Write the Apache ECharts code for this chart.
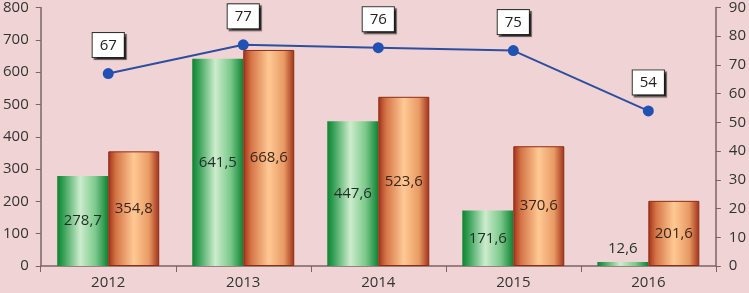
<!DOCTYPE html>
<html><head><meta charset="utf-8">
<script src="https://cdn.jsdelivr.net/npm/echarts@6/dist/echarts.min.js"></script>
<style>html,body{margin:0;padding:0;background:#f0d4d5;}#c{width:749px;height:293px;}</style>
</head><body><div id="c"></div>
<script>
const categories = ['2012','2013','2014','2015','2016'];
const greenValues = [278.7, 641.5, 447.6, 171.6, 12.6];
const orangeValues = [354.8, 668.6, 523.6, 370.6, 201.6];
const lineValues = [67, 77, 76, 75, 54];
const leftTicks = [0,100,200,300,400,500,600,700,800];
const rightTicks = [0,10,20,30,40,50,60,70,80,90];

const font = '"Open Sans", "Noto Sans", sans-serif';
const axisColor = '#7b6464';
const fmt = p => String(p.value).replace('.', ',');

const greenGrad = new echarts.graphic.LinearGradient(0,0,1,0,[
  {offset:0, color:'#0f8233'},
  {offset:0.12, color:'#35a055'},
  {offset:0.45, color:'#cdeccd'},
  {offset:0.75, color:'#7cc98c'},
  {offset:1, color:'#0f8233'}
]);
const orangeGrad = new echarts.graphic.LinearGradient(0,0,1,0,[
  {offset:0, color:'#a03018'},
  {offset:0.15, color:'#d47446'},
  {offset:0.5, color:'#ffc994'},
  {offset:0.8, color:'#e89a64'},
  {offset:1, color:'#a03018'}
]);

const chart = echarts.init(document.getElementById('c'));
chart.setOption({
  backgroundColor: '#f0d4d5',
  animation: false,
  grid: {left: 40, right: 33, top: 5, bottom: 27, containLabel: false},
  xAxis: {
    type: 'category', data: categories,
    axisLine: {lineStyle: {color: axisColor, width: 1.5}},
    axisTick: {show: true, length: 6, lineStyle: {color: axisColor}},
    axisLabel: {color: '#333', fontSize: 15, fontFamily: font, margin: 9}
  },
  yAxis: [
    {type: 'value', min: 0, max: 800, interval: 100,
     axisLine: {show: true, lineStyle: {color: axisColor, width: 1.5}},
     axisTick: {show: true, length: 5, lineStyle: {color: axisColor}},
     splitLine: {show: false},
     axisLabel: {color: '#333', fontSize: 15, fontFamily: font, margin: 12}},
    {type: 'value', min: 0, max: 90, interval: 10, position: 'right',
     axisLine: {show: true, lineStyle: {color: axisColor, width: 1.5}},
     axisTick: {show: true, length: 5, lineStyle: {color: axisColor}},
     splitLine: {show: false},
     axisLabel: {color: '#333', fontSize: 15, fontFamily: font, margin: 13}}
  ],
  series: [
    {type: 'bar', data: greenValues.map((v,i)=> i===4 ? {value:v, label:{position:'top', distance:6}} : v),
     barWidth: 51, barGap: '0%',
     itemStyle: {color: greenGrad},
     label: {show: true, position: 'inside', formatter: fmt, color: '#1f2f25', fontSize: 15, fontFamily: font}},
    {type: 'bar', data: orangeValues, barWidth: 51, barGap: '0%',
     itemStyle: {color: orangeGrad, borderColor: '#8e2d14', borderWidth: 1},
     label: {show: true, position: 'inside', formatter: fmt, color: '#3a2418', fontSize: 15, fontFamily: font}},
    {type: 'line', yAxisIndex: 1, data: lineValues,
     symbol: 'circle', symbolSize: 11,
     lineStyle: {color: '#2e4ea0', width: 2},
     itemStyle: {color: '#2152b3'},
     label: {show: true, position: 'top', distance: 11, color: '#222', fontSize: 15, fontFamily: font,
       backgroundColor: '#fff', borderColor: '#333', borderWidth: 1, padding: [5,7,4,7],
       shadowColor: 'rgba(0,0,0,0.6)', shadowOffsetX: 2, shadowOffsetY: 2, shadowBlur: 1}}
  ]
});
</script></body></html>
